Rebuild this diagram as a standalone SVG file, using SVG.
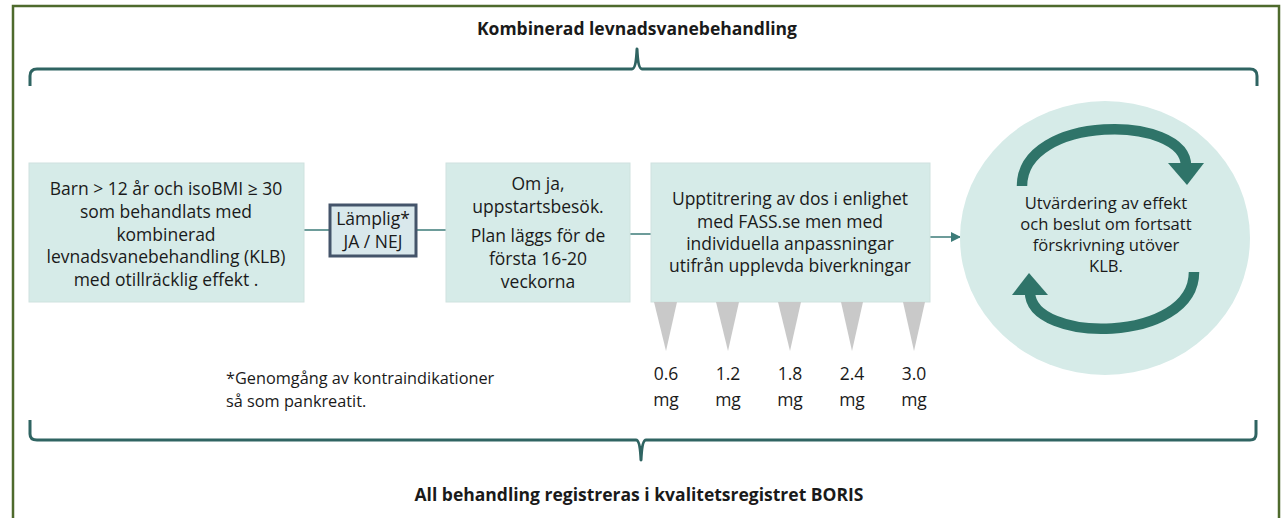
<svg xmlns="http://www.w3.org/2000/svg" width="1283" height="518" viewBox="0 0 1283 518">
<style>
.t{font-family:"Open Sans","Noto Sans",sans-serif;font-size:17.5px;fill:#1a1a1a;text-anchor:middle}
.b{font-weight:bold;font-size:17.5px}
.s{font-size:16.3px;text-anchor:start}
.c{font-size:16.6px}
.box{fill:#d6ebe8;stroke:#cfe2df;stroke-width:1}
.brace{fill:none;stroke:#2f6462;stroke-width:3;stroke-linejoin:round}
.con{fill:none;stroke:#3d7b78;stroke-width:1.5}
.tri{fill:#c9c9c9}
.arc{fill:none;stroke:#2f7469;stroke-width:10.5}
.head{fill:#2f7469}
</style>
<defs>
<marker id="ah" markerWidth="10" markerHeight="10" refX="9" refY="5" orient="auto" markerUnits="userSpaceOnUse">
<path d="M0,0 L10,5 L0,10 Z" fill="#3d7b78"/>
</marker>
</defs>
<rect x="13" y="6" width="1266" height="530" fill="#ffffff" stroke="#4e6a2c" stroke-width="2.5"/>
<text class="t b" x="637" y="35">Kombinerad levnadsvanebehandling</text>
<g id="braces">
<path class="brace" d="M30,86 L30,76 Q30,69 37,69 L632,69 Q636,69 637,49 Q638,69 642,69 L1250,69 Q1257,69 1257,76 L1257,86"/>
<path class="brace" d="M30,420 L30,434 Q30,440 37,440 L636,440 Q640,440 641,460 Q642,440 646,440 L1250,440 Q1256,440 1256,434 L1256,420"/>
</g>
<g id="connectors">
<line class="con" x1="303" y1="230" x2="330" y2="230"/>
<line class="con" x1="416" y1="230" x2="446" y2="230"/>
<line class="con" x1="630" y1="234" x2="651" y2="234"/>
<line class="con" x1="930" y1="237" x2="960" y2="237" marker-end="url(#ah)"/>
</g>
<g id="node-barn">
<rect class="box" x="29" y="163" width="275" height="139"/>
<text class="t" x="166" y="195">Barn &gt; 12 år och isoBMI ≥ 30</text>
<text class="t" x="166" y="218">som behandlats med</text>
<text class="t" x="166" y="241">kombinerad</text>
<text class="t" x="166" y="263">levnadsvanebehandling (KLB)</text>
<text class="t" x="166" y="286">med otillräcklig effekt .</text>
</g>
<g id="node-lamplig">
<rect x="330" y="205" width="86" height="51" fill="#d9e8ec" stroke="#44546a" stroke-width="3"/>
<text class="t" x="373" y="225">Lämplig*</text>
<text class="t" x="373" y="248">JA / NEJ</text>
</g>
<g id="node-start">
<rect class="box" x="446" y="163" width="184" height="139"/>
<text class="t" x="538" y="190">Om ja,</text>
<text class="t" x="538" y="213">uppstartsbesök.</text>
<text class="t" x="538" y="242">Plan läggs för de</text>
<text class="t" x="538" y="265">första 16-20</text>
<text class="t" x="538" y="288">veckorna</text>
</g>
<g id="node-titrering">
<rect class="box" x="651" y="163" width="279" height="139"/>
<text class="t" x="790" y="205">Upptitrering av dos i enlighet</text>
<text class="t" x="790" y="228">med FASS.se men med</text>
<text class="t" x="790" y="250">individuella anpassningar</text>
<text class="t" x="790" y="272">utifrån upplevda biverkningar</text>
<polygon class="tri" points="654,302 677,302 666,351"/>
<polygon class="tri" points="716,302 739,302 728,351"/>
<polygon class="tri" points="778,302 801,302 790,351"/>
<polygon class="tri" points="841,302 863,302 852,351"/>
<polygon class="tri" points="903,302 925,302 914,351"/>
<text class="t" x="666" y="380">0.6</text>
<text class="t" x="728" y="380">1.2</text>
<text class="t" x="790" y="380">1.8</text>
<text class="t" x="852" y="380">2.4</text>
<text class="t" x="914" y="380">3.0</text>
<text class="t" x="666" y="406">mg</text>
<text class="t" x="728" y="406">mg</text>
<text class="t" x="790" y="406">mg</text>
<text class="t" x="852" y="406">mg</text>
<text class="t" x="914" y="406">mg</text>
</g>
<g id="node-utvardering">
<ellipse cx="1105" cy="238" rx="145" ry="137" fill="#d6ebe8"/>
<path class="arc" d="M1022,186 C1022,114 1186,114 1186,166"/>
<polygon class="head" points="1168,163 1204,163 1187,185"/>
<g transform="rotate(180 1108 229)">
<path class="arc" d="M1022,186 C1022,114 1186,114 1186,166"/>
<polygon class="head" points="1168,163 1204,163 1187,185"/>
</g>
<text class="t c" x="1106" y="209">Utvärdering av effekt</text>
<text class="t c" x="1106" y="230">och beslut om fortsatt</text>
<text class="t c" x="1106" y="251">förskrivning utöver</text>
<text class="t c" x="1106" y="272">KLB.</text>
</g>
<g id="note">
<text class="t s" x="226" y="384">*Genomgång av kontraindikationer</text>
<text class="t s" x="226" y="407">så som pankreatit.</text>
</g>
<text class="t b" x="639" y="501">All behandling registreras i kvalitetsregistret BORIS</text>
</svg>
